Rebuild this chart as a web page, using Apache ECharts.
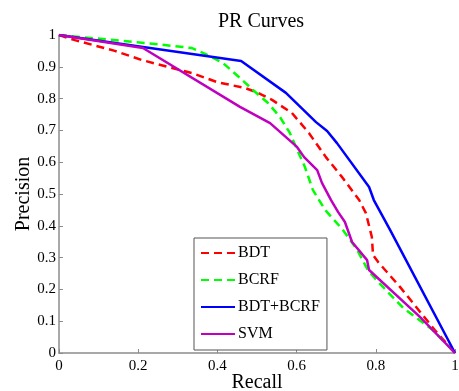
<!DOCTYPE html>
<html>
<head>
<meta charset="utf-8">
<script src="https://cdn.jsdelivr.net/npm/echarts@6/dist/echarts.min.js"></script>
<style>
  html, body { margin: 0; padding: 0; background: #fff; }
  #chart { width: 459px; height: 391px; }
</style>
</head>
<body>
<div id="chart"></div>
<script>
const chartDom = document.getElementById('chart');
const myChart = echarts.init(chartDom);

// PR curve points
const bdtRecall = [0, 0.04, 0.141, 0.21, 0.336, 0.399, 0.47, 0.497, 0.538, 0.588, 0.631, 0.674, 0.715, 0.758, 0.775, 0.79, 0.793, 0.806, 0.861, 0.949, 1];
const bdtPrecision = [1, 0.984, 0.95, 0.921, 0.88, 0.852, 0.833, 0.821, 0.796, 0.755, 0.692, 0.616, 0.553, 0.481, 0.44, 0.365, 0.308, 0.286, 0.208, 0.072, 0];

const bcrfRecall = [0, 0.217, 0.336, 0.376, 0.414, 0.457, 0.49, 0.528, 0.558, 0.583, 0.604, 0.621, 0.641, 0.672, 0.717, 0.753, 0.78, 0.806, 0.869, 0.944, 1];
const bcrfPrecision = [1, 0.975, 0.959, 0.937, 0.912, 0.865, 0.827, 0.786, 0.742, 0.692, 0.632, 0.585, 0.513, 0.45, 0.387, 0.324, 0.261, 0.223, 0.142, 0.072, 0];

const bothRecall = [0, 0.46, 0.573, 0.649, 0.677, 0.702, 0.783, 0.795, 0.836, 0.859, 1];
const bothPrecision = [1, 0.918, 0.818, 0.726, 0.698, 0.66, 0.522, 0.481, 0.387, 0.333, 0];

const svmRecall = [0, 0.212, 0.457, 0.533, 0.601, 0.619, 0.652, 0.664, 0.687, 0.705, 0.722, 0.74, 0.778, 0.783, 0.912, 1];
const svmPrecision = [1, 0.959, 0.774, 0.723, 0.648, 0.616, 0.575, 0.535, 0.481, 0.443, 0.412, 0.349, 0.292, 0.261, 0.113, 0];

const xTicks = [0, 0.2, 0.4, 0.6, 0.8, 1];
const yTicks = [0, 0.1, 0.2, 0.3, 0.4, 0.5, 0.6, 0.7, 0.8, 0.9, 1];

const serif = 'Liberation Serif';

function pairs(xs, ys) {
  return xs.map((x, i) => [x, ys[i]]);
}

function curve(name, xs, ys, color, dashed) {
  return {
    name: name,
    type: 'line',
    data: pairs(xs, ys),
    symbol: 'none',
    showSymbol: false,
    animation: false,
    lineStyle: { color: color, width: 2.5, type: dashed ? [8, 5] : 'solid' },
    itemStyle: { color: color }
  };
}

const axisCommon = {
  type: 'value',
  min: 0,
  max: 1,
  axisLine: { show: true, lineStyle: { color: '#8c8c8c', width: 1.5 } },
  axisTick: { show: true, inside: true, length: 4, lineStyle: { color: '#8c8c8c' } },
  splitLine: { show: false },
  axisLabel: { fontFamily: serif, fontSize: 15, color: '#000' },
  nameLocation: 'middle',
  nameMoveOverlap: false,
  nameTextStyle: { fontFamily: serif, fontSize: 20, color: '#000' }
};

const option = {
  backgroundColor: '#fff',
  animation: false,
  title: {
    text: 'PR Curves',
    left: 213,
    top: 7,
    textStyle: { fontFamily: serif, fontSize: 20, fontWeight: 'normal', color: '#000' }
  },
  legend: {
    orient: 'vertical',
    left: 194,
    top: 238,
    padding: [7, 7, 8, 6],
    itemWidth: 34,
    itemHeight: 14,
    itemGap: 11,
    backgroundColor: '#fff',
    borderColor: '#555',
    borderWidth: 1,
    itemStyle: { opacity: 0 },
    textStyle: { fontFamily: serif, fontSize: 16, color: '#000', padding: [0, 0, 0, -2] },
    data: ['BDT', 'BCRF', 'BDT+BCRF', 'SVM']
  },
  grid: { left: 59, right: 4, top: 35, bottom: 38, containLabel: false, outerBoundsMode: 'none' },
  xAxis: Object.assign({}, axisCommon, {
    interval: 0.2,
    name: 'Recall',
    nameGap: 20,
    axisLabel: Object.assign({}, axisCommon.axisLabel, {
      margin: 6,
      formatter: v => xTicks.includes(+v.toFixed(1)) ? String(+v.toFixed(1)) : ''
    })
  }),
  yAxis: Object.assign({}, axisCommon, {
    interval: 0.1,
    name: 'Precision',
    nameGap: 25,
    axisLabel: Object.assign({}, axisCommon.axisLabel, {
      margin: 3,
      formatter: v => yTicks.includes(+v.toFixed(1)) ? String(+v.toFixed(1)) : ''
    })
  }),
  series: [
    curve('BDT', bdtRecall, bdtPrecision, '#ff0000', true),
    curve('BCRF', bcrfRecall, bcrfPrecision, '#00ff00', true),
    curve('BDT+BCRF', bothRecall, bothPrecision, '#0000ff', false),
    curve('SVM', svmRecall, svmPrecision, '#bf00bf', false)
  ]
};

myChart.setOption(option);
</script>
</body>
</html>
